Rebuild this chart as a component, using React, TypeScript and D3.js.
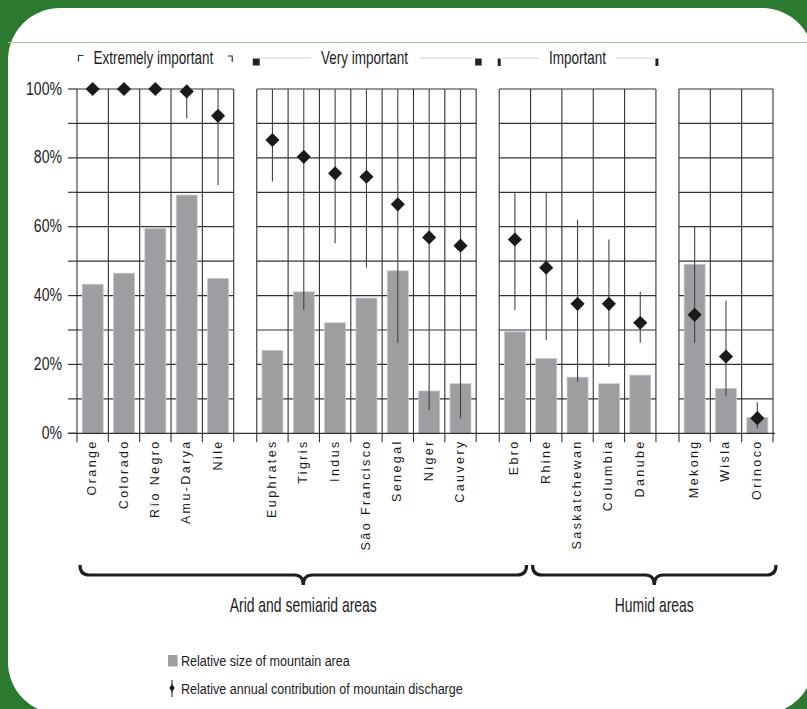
import React from "react";
import * as d3 from "d3";

// River basins, ordered as plotted
const categories = [
  "Orange", "Colorado", "Río Negro", "Amu-Darya", "Nile",
  "Euphrates", "Tigris", "Indus", "São Francisco", "Senegal", "Niger", "Cauvery",
  "Ebro", "Rhine", "Saskatchewan", "Columbia", "Danube",
  "Mekong", "Wisla", "Orinoco",
];
// Importance group of each basin (0 extremely, 1 very, 2 important, 3 no header)
const groupIndex = [0, 0, 0, 0, 0, 1, 1, 1, 1, 1, 1, 1, 2, 2, 2, 2, 2, 3, 3, 3];

// Relative size of mountain area (%)
const mountainArea = [43.3, 46.5, 59.5, 69.2, 45, 24.1, 41.1, 32.1, 39.3, 47.2, 12.3, 14.4, 29.5, 21.7, 16.3, 14.4, 16.9, 49.1, 13, 4.6];
// Relative annual contribution of mountain discharge (%), with its range
const discharge = [100, 100, 100, 99.3, 92.2, 85.2, 80.3, 75.5, 74.5, 66.5, 56.9, 54.5, 56.3, 48.1, 37.6, 37.6, 32.1, 34.4, 22.3, 4.4];
const dischargeLow = [100, 100, 100, 91.5, 72.1, 73.1, 35.8, 55.2, 48.1, 26.3, 6.8, 4.4, 35.8, 27.1, 15, 19.3, 26.3, 26.3, 10.9, 1.5];
const dischargeHigh = [100, 100, 100, 100, 100, 100, 100, 100, 100, 100, 100, 100, 70, 70, 62, 56.3, 41.1, 60, 38.5, 9];

const importanceLabels = ["Extremely important", "Very important", "Important"];
const climateLabels = ["Arid and semiarid areas", "Humid areas"];
const climateSpans: [number, number][] = [[0, 12], [13, 19]];
const yTickLabels = [0, 20, 40, 60, 80, 100];
const yGridValues = d3.range(0, 101, 10);
const legendLabels = ["Relative size of mountain area", "Relative annual contribution of mountain discharge"];

const W = 807;
const H = 709;
const FONT = "'Liberation Sans', Arial, Helvetica, sans-serif";
const GREEN = "#2b7a2f";
const BAR = "#9d9da2";
const INK = "#1c1c1c";
const GRID = "#333333";
const WHISKER = "#444";
const GAP = 0.735; // gap between groups, in column widths

function textWidth(text: string, size: number) {
  const ctx = document.createElement("canvas").getContext("2d");
  if (!ctx) return text.length * size * 0.5;
  ctx.font = `${size}px ${FONT}`;
  return ctx.measureText(text).width;
}

function CondText(props: {
  x: number; y: number; size: number; sx: number; anchor?: string; children: React.ReactNode;
}) {
  const { x, y, size, sx, anchor = "start", children } = props;
  return (
    <text
      transform={`translate(${x},${y}) scale(${sx},1)`}
      fontSize={size}
      fontFamily={FONT}
      textAnchor={anchor}
      fill={INK}
    >
      {children}
    </text>
  );
}

export default function App() {
  const y = d3.scaleLinear().domain([0, 100]).range([433.3, 89]);
  const x = d3.scaleLinear().domain([0, categories.length + 3 * GAP]).range([77, 773]);
  const slotOf = (i: number) => i + groupIndex[i] * GAP;
  const left = (i: number) => x(slotOf(i));
  const right = (i: number) => x(slotOf(i) + 1);
  const center = (i: number) => x(slotOf(i) + 0.5);
  const colW = x(1) - x(0);
  const barW = colW * 0.67;
  const y0 = y(0);
  const tickBottom = y0 + 9;

  const groups = d3.groups(categories.map((_, i) => i), (i) => groupIndex[i]).map(([g, idx]) => ({
    g,
    idx,
    start: left(idx[0]),
    end: right(idx[idx.length - 1]),
  }));

  const diamond = d3.symbol(d3.symbolSquare, 100)() as string;
  const legendDiamond = d3.symbol(d3.symbolSquare, 26)() as string;

  const headerY = 63.5;
  const headerSize = 18;
  const headerSx = 0.75;

  const bracePath = (x1: number, x2: number) => {
    const m = (x1 + x2) / 2;
    const top = 565, mid = 575, tip = 585, r = 9;
    return `M${x1},${top} Q${x1},${mid} ${x1 + r},${mid} L${m - r},${mid} Q${m},${mid} ${m},${tip} Q${m},${mid} ${m + r},${mid} L${x2 - r},${mid} Q${x2},${mid} ${x2},${top}`;
  };

  return (
    <svg
      width={W}
      height={H}
      viewBox={`0 0 ${W} ${H}`}
      style={{ position: "absolute", left: 0, top: 0, display: "block" }}
    >
      {/* frame */}
      <rect x={0} y={0} width={W} height={H} fill={GREEN} />
      <rect x={8} y={8} width={806} height={706} rx={52} ry={52} fill="#ffffff" />
      <line x1={8} x2={W} y1={42.5} y2={42.5} stroke="#9fcea3" strokeWidth={1.2} />

      {/* importance headers */}
      {groups.filter((gr) => gr.g < importanceLabels.length).map((gr) => {
        const label = importanceLabels[gr.g];
        const cx = (gr.start + gr.end) / 2 - (gr.g < 2 ? 2 : 0);
        const tw = textWidth(label, headerSize) * headerSx;
        const tl = cx - tw / 2;
        const tr = cx + tw / 2;
        return (
          <g key={"h" + gr.g}>
            <CondText x={cx} y={headerY} size={headerSize} sx={headerSx} anchor="middle">{label}</CondText>
            {gr.g === 0 && (
              <g fill="none" stroke="#333" strokeWidth={1.2}>
                <path d={`M${gr.start + 1.5},61.5 V55.5 H${gr.start + 6.5}`} />
                <path d={`M${gr.end - 6},56 H${gr.end - 1.5} V62`} />
              </g>
            )}
            {gr.g === 1 && (
              <g>
                <line x1={gr.start + 3} x2={tl - 10} y1={58} y2={58} stroke="#cfcfcf" strokeWidth={1} />
                <line x1={tr + 12} x2={gr.end - 3} y1={58} y2={58} stroke="#cfcfcf" strokeWidth={1} />
                <rect x={gr.start - 4} y={58.5} width={7} height={7} fill="#222" />
                <rect x={gr.end - 1} y={58.5} width={6.5} height={7} fill="#222" />
              </g>
            )}
            {gr.g === 2 && (
              <g>
                <line x1={gr.start + 3} x2={tl - 10} y1={58} y2={58} stroke="#cfcfcf" strokeWidth={1} />
                <line x1={tr + 10} x2={gr.end - 2} y1={58} y2={58} stroke="#cfcfcf" strokeWidth={1} />
                <rect x={gr.start - 1.5} y={58.5} width={3} height={7.5} fill="#222" />
                <rect x={gr.end - 0.5} y={58.5} width={3} height={7.5} fill="#222" />
              </g>
            )}
          </g>
        );
      })}

      {/* y axis ticks and labels */}
      {yGridValues.map((v) => (
        <line key={"t" + v} x1={68} x2={77} y1={y(v)} y2={y(v)} stroke={GRID} strokeWidth={1.2} />
      ))}
      {yTickLabels.map((v) => (
        <CondText key={"l" + v} x={62} y={y(v) + 5.5} size={19} sx={0.74} anchor="end">{`${v}%`}</CondText>
      ))}

      {/* horizontal gridlines, broken between groups */}
      {groups.map((gr) =>
        yGridValues.filter((v) => v > 0).map((v) => (
          <line key={`g${gr.g}-${v}`} x1={gr.start} x2={gr.end} y1={y(v)} y2={y(v)} stroke={GRID} strokeWidth={1.2} />
        ))
      )}

      {/* vertical column separators */}
      {groups.map((gr) =>
        [...gr.idx.map((i) => left(i)), gr.end].map((xv, k) => (
          <line key={`v${gr.g}-${k}`} x1={xv} x2={xv} y1={y(100)} y2={tickBottom} stroke={GRID} strokeWidth={1.1} />
        ))
      )}

      {/* bars: relative size of mountain area */}
      {mountainArea.map((v, i) => (
        <rect
          key={"b" + i}
          x={center(i) - barW / 2}
          y={y(v)}
          width={barW}
          height={y0 - y(v)}
          fill={BAR}
          stroke="#c9c9cd"
          strokeWidth={0.8}
        />
      ))}

      {/* baseline */}
      <line x1={68} x2={x.range()[1] + 2} y1={y0} y2={y0} stroke={GRID} strokeWidth={1.3} />

      {/* discharge ranges */}
      {discharge.map((_, i) =>
        dischargeHigh[i] > dischargeLow[i] ? (
          <line
            key={"e" + i}
            x1={center(i)}
            x2={center(i)}
            y1={y(dischargeHigh[i])}
            y2={y(dischargeLow[i])}
            stroke={WHISKER}
            strokeWidth={1.1}
          />
        ) : null
      )}

      {/* discharge markers */}
      {discharge.map((v, i) => (
        <path key={"d" + i} d={diamond} transform={`translate(${center(i)},${y(v)}) rotate(45)`} fill="#1a1a1a" />
      ))}

      {/* category labels */}
      {categories.map((c, i) => (
        <text
          key={"c" + i}
          transform={`translate(${center(i) + 3.5},${tickBottom - 3}) rotate(-90)`}
          fontSize={12.5}
          fontFamily={FONT}
          letterSpacing={2.4}
          textAnchor="end"
          fill={INK}
        >
          {c}
        </text>
      ))}

      {/* climate braces */}
      {climateSpans.map(([a, b], k) => {
        const x1 = k === 0 ? left(a) + 3 : left(a) + 2;
        const x2 = k === 0 ? right(b) - 4 : right(b) + 3;
        const m = (x1 + x2) / 2;
        return (
          <g key={"br" + k}>
            <path d={bracePath(x1, x2)} fill="none" stroke="#1e1e1e" strokeWidth={3.2} />
            <CondText x={m} y={612} size={20.5} sx={0.68} anchor="middle">{climateLabels[k]}</CondText>
          </g>
        );
      })}

      {/* legend */}
      <rect x={168} y={655} width={9.5} height={11.5} fill={BAR} />
      <CondText x={181} y={666} size={15.5} sx={0.81}>{legendLabels[0]}</CondText>
      <line x1={172} x2={172} y1={680} y2={697} stroke="#222" strokeWidth={1.1} />
      <path d={legendDiamond} transform={`translate(172,688) scale(0.75,1.1) rotate(45)`} fill="#1a1a1a" />
      <CondText x={181} y={693.5} size={15.5} sx={0.81}>{legendLabels[1]}</CondText>
    </svg>
  );
}
